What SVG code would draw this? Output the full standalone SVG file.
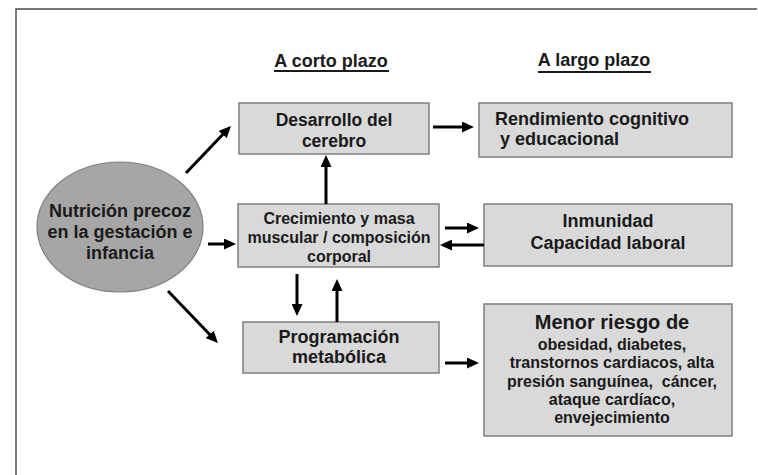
<svg xmlns="http://www.w3.org/2000/svg" width="758" height="475" viewBox="0 0 758 475">
<defs>
<marker id="ah" markerUnits="userSpaceOnUse" markerWidth="12" markerHeight="11" refX="6" refY="5.5" orient="auto">
<path d="M0,0 L12,5.5 L0,11 z" fill="#000"/>
</marker>
<style>
.t{font-family:"Liberation Sans",Arial,sans-serif;font-weight:bold;fill:#1a1a1a;text-anchor:middle}
.box{fill:#d9d9d9;stroke:#7f7f7f;stroke-width:1.5}
.ar{stroke:#000;stroke-width:3;fill:none;marker-end:url(#ah)}
.ul{stroke:#1a1a1a;stroke-width:2}
</style>
</defs>
<rect width="758" height="475" fill="#fff"/>
<path d="M16,475 V9 H757" fill="none" stroke="#4d4d4d" stroke-width="1.5"/>

<g id="headers">
<text class="t" x="331" y="67" font-size="18">A corto plazo</text>
<line class="ul" x1="274" y1="71" x2="389" y2="71"/>
<text class="t" x="594" y="66" font-size="18">A largo plazo</text>
<line class="ul" x1="538" y1="72" x2="651" y2="72"/>
</g>

<g id="nutricion">
<ellipse cx="120" cy="227" rx="83" ry="65" fill="#a6a6a6" stroke="#7f7f7f" stroke-width="1.2"/>
<text class="t" font-size="18"><tspan x="120" y="217">Nutrición precoz</tspan><tspan x="120" y="238">en la gestación e</tspan><tspan x="120" y="259">infancia</tspan></text>
</g>

<g id="cerebro">
<rect class="box" x="239" y="103" width="190" height="51"/>
<text class="t" font-size="17.5"><tspan x="334" y="126">Desarrollo del</tspan><tspan x="334" y="147">cerebro</tspan></text>
</g>

<g id="crecimiento">
<rect class="box" x="238" y="204" width="201" height="63"/>
<text class="t" font-size="16"><tspan x="339" y="224">Crecimiento y masa</tspan><tspan x="339" y="243">muscular / composición</tspan><tspan x="339" y="262">corporal</tspan></text>
</g>

<g id="programacion">
<rect class="box" x="243" y="322" width="196" height="51"/>
<text class="t" font-size="18"><tspan x="339" y="343">Programación</tspan><tspan x="339" y="363">metabólica</tspan></text>
</g>

<g id="rendimiento">
<rect class="box" x="479" y="103" width="253" height="54"/>
<text class="t" font-size="18" style="text-anchor:start;white-space:pre"><tspan x="495" y="125">Rendimiento cognitivo</tspan><tspan x="495" y="145"> y educacional</tspan></text>
</g>

<g id="inmunidad">
<rect class="box" x="484" y="204" width="248" height="62"/>
<text class="t" font-size="18"><tspan x="608" y="227">Inmunidad</tspan><tspan x="608" y="249">Capacidad laboral</tspan></text>
</g>

<g id="riesgo">
<rect class="box" x="484" y="304" width="248" height="132"/>
<text class="t" font-size="20" x="612" y="329">Menor riesgo de</text>
<text class="t" font-size="16" style="white-space:pre"><tspan x="612" y="350">obesidad, diabetes,</tspan><tspan x="612" y="368">transtornos cardiacos, alta</tspan><tspan x="612" y="387">presión sanguínea,  cáncer,</tspan><tspan x="612" y="405">ataque cardíaco,</tspan><tspan x="612" y="423">envejecimiento</tspan></text>
</g>

<g id="connectors">
<line class="ar" x1="186" y1="173" x2="226.8" y2="130.3"/>
<line class="ar" x1="208" y1="244" x2="230" y2="244"/>
<line class="ar" x1="168" y1="291" x2="213.8" y2="338.7"/>
<line class="ar" x1="326" y1="204" x2="326" y2="161"/>
<line class="ar" x1="433" y1="127" x2="468" y2="127"/>
<line class="ar" x1="445" y1="228" x2="473" y2="228"/>
<line class="ar" x1="484" y1="245" x2="446" y2="245"/>
<line class="ar" x1="297" y1="274" x2="297" y2="310"/>
<line class="ar" x1="337" y1="322" x2="337" y2="285"/>
<line class="ar" x1="445" y1="363" x2="473" y2="363"/>
</g>
</svg>
